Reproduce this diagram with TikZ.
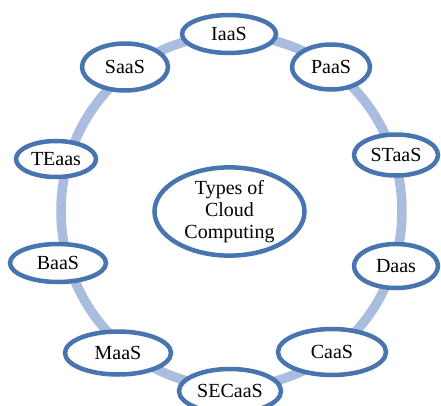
\documentclass[tikz,border=0pt]{standalone}
\usepackage{fontspec}
\setmainfont{Liberation Serif}
\usepackage{xcolor}
\usepackage{tikz}
\usetikzlibrary{shapes.geometric}

\definecolor{ringblue}{RGB}{170,189,222}
\definecolor{edgeblue}{RGB}{72,117,176}

\begin{document}
\begin{tikzpicture}[x=1pt, y=1pt, every node/.style={font=\fontsize{20}{22}\selectfont}]

    % --- 1. Frame (same size as the reference) ---
    \useasboundingbox (-228,-194) rectangle (213,211);

    % --- 2. Ring (light blue, slightly oval, behind the services) ---
    \tikzset{ringline/.style={ringblue, line width=9.5pt}}
    \coordinate (mid) at (3.5,0);
    \draw[ringline] (mid) ellipse (170.5 and 176);

    % --- 3. Services on the ring ---
    \tikzset{service/.style={ellipse, draw=edgeblue, line width=4.5pt, fill=white, inner sep=0pt}}
    \node[service, minimum width=94, minimum height=38]  (iaas)   at (1,177)     {IaaS};
    \node[service, minimum width=78, minimum height=45]  (paas)   at (103,144)   {PaaS};
    \node[service, minimum width=84, minimum height=41]  (staas)  at (168,56)    {STaaS};
    \node[service, minimum width=84, minimum height=44]  (daas)   at (168,-55)   {Daas};
    \node[service, minimum width=108, minimum height=46] (caas)   at (104,-141)  {CaaS};
    \node[service, minimum width=102, minimum height=44] (secaas) at (2,-180)    {SECaaS};
    \node[service, minimum width=106, minimum height=43] (maas)   at (-110,-142) {MaaS};
    \node[service, minimum width=96, minimum height=38]  (baas)   at (-170,-52)  {BaaS};
    \node[service, minimum width=80, minimum height=36]  (teaas)  at (-172,52)   {TEaas};
    \node[service, minimum width=86, minimum height=47]  (saas)   at (-103,144)  {SaaS};

    % --- 4. Middle ellipse ---
    \node[service, align=center, minimum width=150, minimum height=88] (types) at (1.5,-0.5) {Types of\\Cloud\\Computing};

\end{tikzpicture}
\end{document}
